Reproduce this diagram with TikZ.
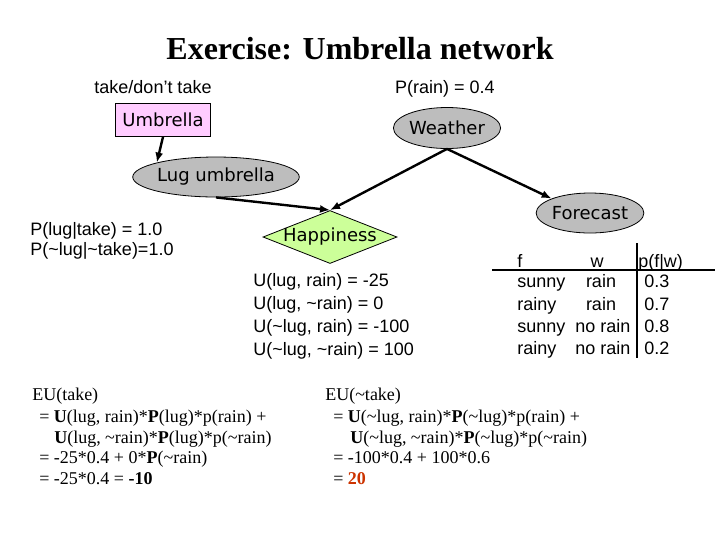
\documentclass[tikz,border=0pt]{standalone}
\usepackage{fontspec}
\setmainfont{Liberation Serif}
\newfontfamily\arialf{Liberation Sans}
\newfontfamily\comicf{DejaVu Sans}
\usetikzlibrary{shapes.geometric,arrows.meta}
\newcommand\mytil{\textasciitilde}
\definecolor{pinkfill}{HTML}{FFCCFF}
\definecolor{grayfill}{HTML}{BDBDBD}
\definecolor{greenfill}{HTML}{CCFF99}
\definecolor{resred}{HTML}{CC3300}
\tikzset{
  arial/.style={font=\arialf\fontsize{13.5}{16}\selectfont, inner sep=0pt, anchor=base west},
  times/.style={font=\fontsize{13.5}{16}\selectfont, inner sep=0pt, anchor=base west},
  netfont/.style={font=\comicf\fontsize{13.5}{15}\selectfont},
  net/.style={draw=black, line width=0.6pt, inner sep=0pt, netfont},
  link/.style={line width=1.8pt, -{Latex[length=7.5pt,width=6pt]}},
  rule/.style={line width=0.8pt},
}
\begin{document}
\begin{tikzpicture}[x=0.75pt,y=-0.75pt]
\useasboundingbox (0,0) rectangle (720,540);

% title
\node[anchor=base, inner sep=0pt, font=\bfseries\fontsize{24}{28}\selectfont] (title) at (360,59) {Exercise: Umbrella network};

% labels above nodes
\node[arial, anchor=base] (tdt) at (153,93) {take/don’t take};
\node[arial, anchor=base] (prain) at (445,93) {P(rain) = 0.4};

% network nodes
\node[net, rectangle, fill=pinkfill, minimum width=71.25pt, minimum height=24.75pt] (umb) at (163,120) {Umbrella};
\node[net, ellipse, fill=grayfill, minimum width=76.5pt, minimum height=30.75pt] (wea) at (447,128) {Weather};
\node[net, ellipse, fill=grayfill, minimum width=101.25pt, minimum height=30pt] (lug) at (216,177) {Lug umbrella};
\node[net, ellipse, fill=grayfill, minimum width=78pt, minimum height=30pt] (fc) at (590,213) {Forecast};
\node[net, diamond, fill=greenfill, aspect=2.5, minimum width=100.5pt, minimum height=39.75pt] (hap) at (330,237) {};
\node[inner sep=0pt, netfont] (haptxt) at (330,237) {Happiness};

% connectors
\draw[link] (umb.south) -- (lug.north west);
\draw[link] (lug.south) -- (hap.north);
\draw[link] (wea.south) -- (hap.north);
\draw[link] (wea.south) -- (fc.north west);

% CPT of Lug umbrella
\node[arial] (pl1) at (30,235) {P(lug|take) = 1.0};
\node[arial] (pl2) at (30,255) {P(\mytil lug|\mytil take)=1.0};

% utilities
\node[arial] (u1) at (253,286) {U(lug, rain) = -25};
\node[arial] (u2) at (253,309) {U(lug, \mytil rain) = 0};
\node[arial] (u3) at (253,332) {U(\mytil lug, rain) = -100};
\node[arial] (u4) at (253,355) {U(\mytil lug, \mytil rain) = 100};

% forecast table
\node[arial] (hf) at (517,267) {f};
\node[arial, anchor=base] (hw) at (597,267) {w};
\node[arial] (hp) at (638,267) {p(f|w)};
\node[arial] (r1a) at (517,287) {sunny};
\node[arial, anchor=base] (r1b) at (601,287) {rain};
\node[arial] (r1c) at (644,287) {0.3};
\node[arial] (r2a) at (517,310) {rainy};
\node[arial, anchor=base] (r2b) at (601,310) {rain};
\node[arial] (r2c) at (644,310) {0.7};
\node[arial] (r3a) at (517,332) {sunny};
\node[arial, anchor=base] (r3b) at (603,332) {no rain};
\node[arial] (r3c) at (644,332) {0.8};
\node[arial] (r4a) at (517,354) {rainy};
\node[arial, anchor=base] (r4b) at (603,354) {no rain};
\node[arial] (r4c) at (644,354) {0.2};
\draw[rule] (492,270) -- (715,270);
\draw[rule] (637,243) -- (637,358);

% EU(take)
\node[times] (e1) at (32,400) {EU(take)};
\node[times] (e2) at (39,422) {= \textbf{U}(lug, rain)*\textbf{P}(lug)*p(rain) +};
\node[times] (e3) at (54,443) {\textbf{U}(lug, \mytil rain)*\textbf{P}(lug)*p(\mytil rain)};
\node[times] (e4) at (39,463) {= -25*0.4 + 0*\textbf{P}(\mytil rain)};
\node[times] (e5) at (39,484) {= -25*0.4 = \textbf{-10}};

% EU(~take)
\node[times] (f1) at (325,400) {EU(\mytil take)};
\node[times] (f2) at (333,422) {= \textbf{U}(\mytil lug, rain)*\textbf{P}(\mytil lug)*p(rain) +};
\node[times] (f3) at (350,443) {\textbf{U}(\mytil lug, \mytil rain)*\textbf{P}(\mytil lug)*p(\mytil rain)};
\node[times] (f4) at (333,463) {= -100*0.4 + 100*0.6};
\node[times] (f5) at (333,484) {= \textcolor{resred}{\textbf{20}}};
\end{tikzpicture}
\end{document}
